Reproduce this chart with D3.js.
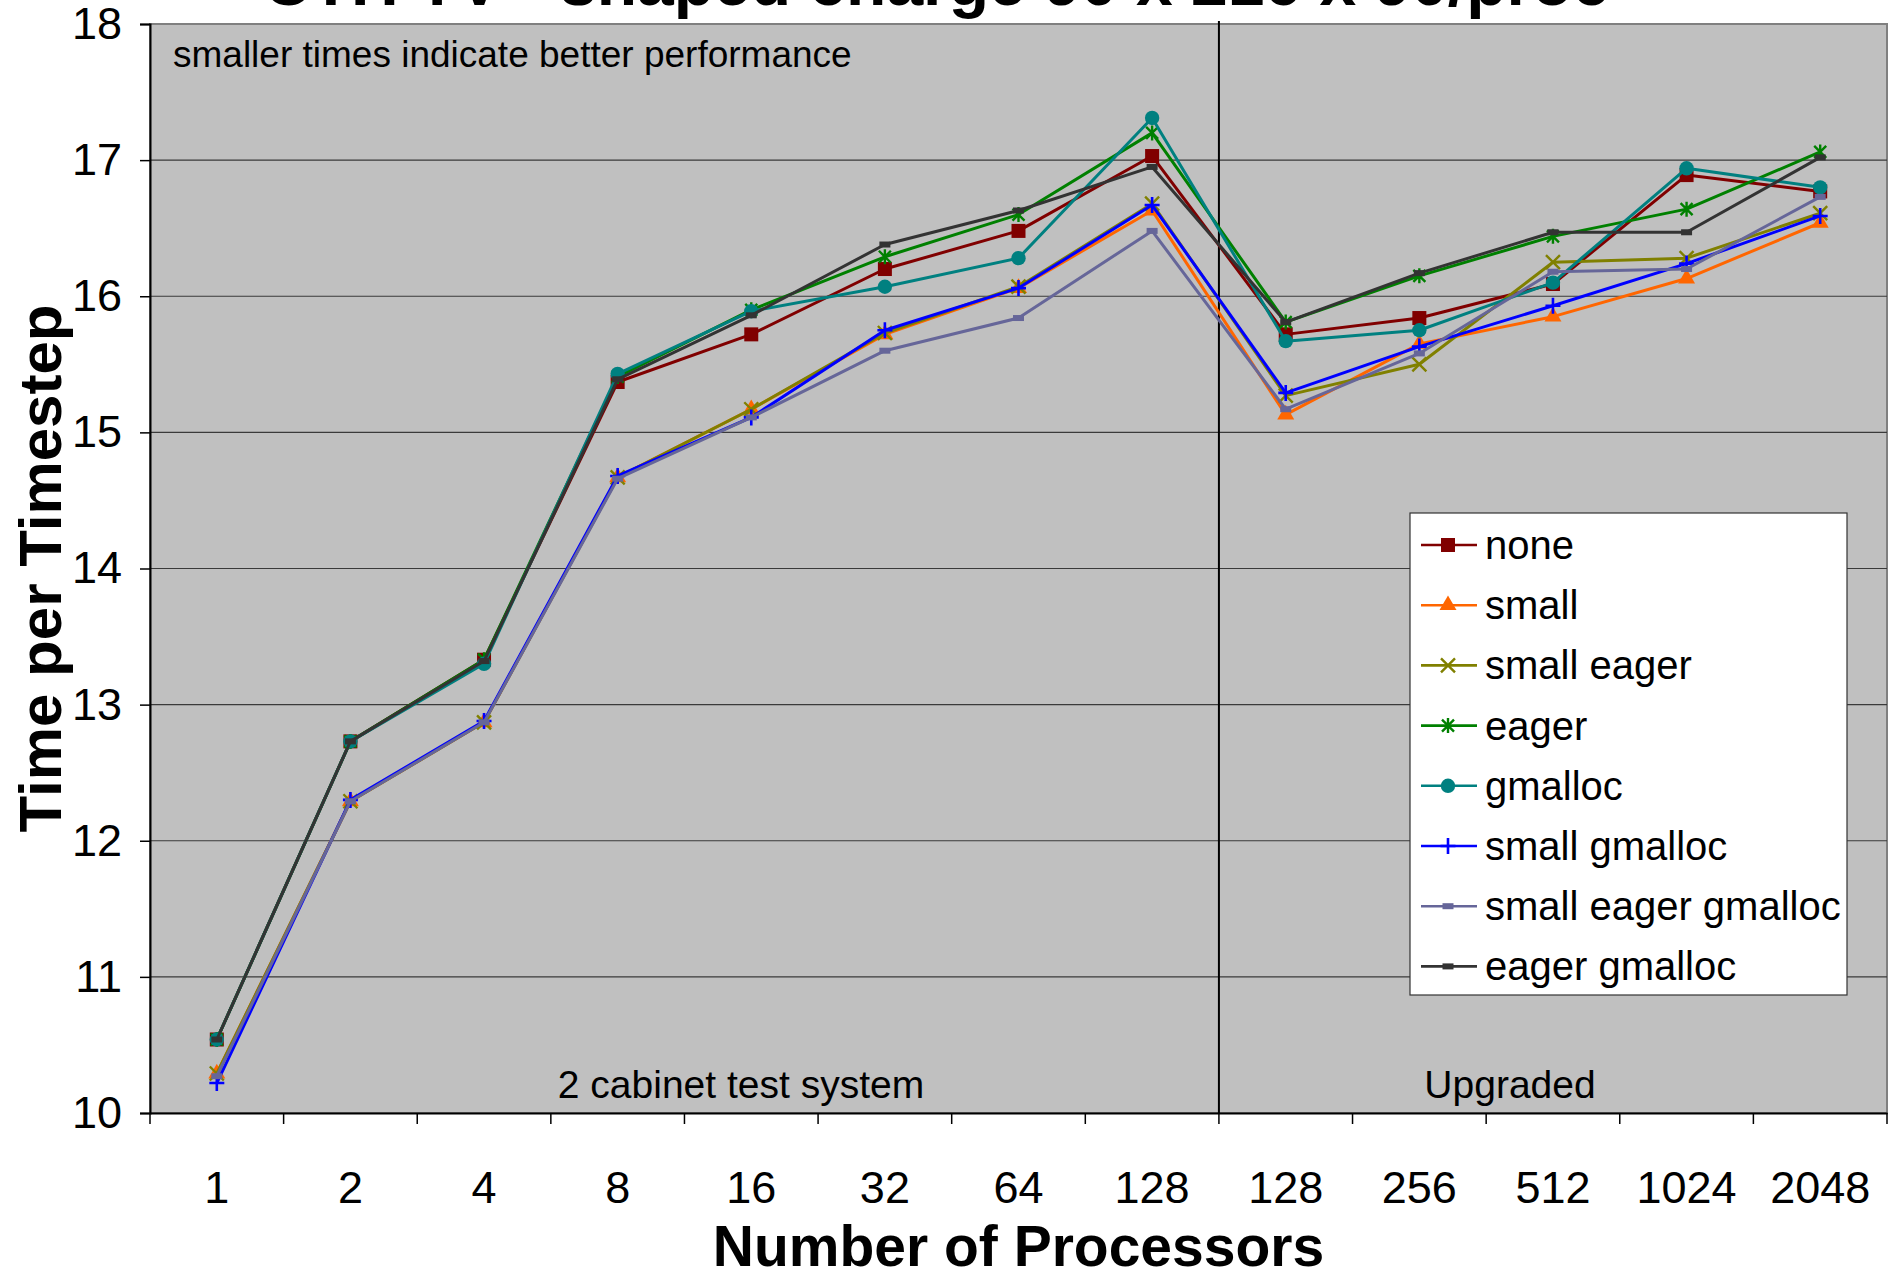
<!DOCTYPE html>
<html>
<head>
<meta charset="utf-8">
<script src="https://cdn.jsdelivr.net/npm/d3@7"></script>
<style>
  body { margin: 0; background: #fff; }
  svg { display: block; font-family: "Liberation Sans", Arial, sans-serif; }
</style>
</head>
<body>
<svg id="chart" width="1896" height="1278"></svg>
<script>
// Chart data
const categories = ['1', '2', '4', '8', '16', '32', '64', '128', '128', '256', '512', '1024', '2048'];
const yTicks = [10, 11, 12, 13, 14, 15, 16, 17, 18];

const none            = [10.54, 12.73, 13.33, 15.37, 15.72, 16.20, 16.48, 17.03, 15.72, 15.84, 16.09, 16.89, 16.77];
const small           = [10.29, 12.29, 12.87, 14.67, 15.17, 15.72, 16.06, 16.63, 15.13, 15.65, 15.85, 16.13, 16.54];
const smallEager      = [10.29, 12.29, 12.87, 14.67, 15.17, 15.73, 16.07, 16.68, 15.27, 15.50, 16.25, 16.28, 16.61];
const eager           = [10.54, 12.73, 13.33, 15.41, 15.90, 16.29, 16.60, 17.20, 15.81, 16.15, 16.44, 16.64, 17.06];
const gmalloc         = [10.54, 12.73, 13.30, 15.43, 15.89, 16.07, 16.28, 17.31, 15.67, 15.75, 16.10, 16.94, 16.80];
const smallGmalloc    = [10.22, 12.30, 12.88, 14.68, 15.11, 15.75, 16.06, 16.67, 15.29, 15.63, 15.93, 16.24, 16.59];
const smallEagerGmall = [10.27, 12.29, 12.87, 14.66, 15.11, 15.60, 15.84, 16.48, 15.17, 15.58, 16.18, 16.20, 16.73];
const eagerGmalloc    = [10.54, 12.73, 13.32, 15.39, 15.86, 16.38, 16.63, 16.95, 15.81, 16.17, 16.47, 16.47, 17.02];

const seriesNames  = ['none', 'small', 'small eager', 'eager', 'gmalloc', 'small gmalloc', 'small eager gmalloc', 'eager gmalloc'];
const seriesValues = [none, small, smallEager, eager, gmalloc, smallGmalloc, smallEagerGmall, eagerGmalloc];
const seriesColors = ['#800000', '#FF6600', '#808000', '#008000', '#008080', '#0000FF', '#666699', '#333333'];
const seriesMarker = ['square', 'triangle', 'x', 'asterisk', 'circle', 'plus', 'dash', 'dash'];

const titleText = 'CTH TV - shaped charge 90 x 216 x 90/proc';
const yTitle = 'Time per Timestep';
const xTitle = 'Number of Processors';

// Layout
const margin = {top: 24, right: 9, bottom: 165, left: 150};
const W = 1896, H = 1278;
const width = W - margin.left - margin.right;
const height = H - margin.top - margin.bottom;

const svg = d3.select('#chart');

// Scales
const x = d3.scaleBand()
    .domain(d3.range(categories.length))
    .range([0, width])
    .padding(0);
const y = d3.scaleLinear()
    .domain([10, 18])
    .range([height, 0]);

// Title (cut off at the top, as in the original)
svg.append('text')
    .attr('x', 263)
    .attr('y', 5)
    .style('font-size', '66px')
    .style('font-weight', 'bold')
    .text(titleText);

const g = svg.append('g')
    .attr('transform', `translate(${margin.left},${margin.top})`);

// Plot background
g.append('rect')
    .attr('width', width)
    .attr('height', height)
    .attr('fill', '#C0C0C0')
    .attr('stroke', '#808080')
    .attr('stroke-width', 2);

// Gridlines
g.append('g')
    .selectAll('line')
    .data(yTicks.filter(d => d > 10 && d < 18))
    .enter().append('line')
    .attr('x1', 0)
    .attr('x2', width)
    .attr('y1', d => y(d))
    .attr('y2', d => y(d))
    .attr('stroke', '#3a3a3a')
    .attr('stroke-width', 1.2);

// Divider between test system and upgraded system
const divX = x(8);
g.append('line')
    .attr('x1', divX).attr('x2', divX)
    .attr('y1', -3).attr('y2', height)
    .attr('stroke', '#000')
    .attr('stroke-width', 2);

// Annotations
g.append('text')
    .attr('x', 23)
    .attr('y', 43)
    .style('font-size', '37px')
    .text('smaller times indicate better performance');
g.append('text')
    .attr('x', 591)
    .attr('y', height - 15)
    .attr('text-anchor', 'middle')
    .style('font-size', '39px')
    .text('2 cabinet test system');
g.append('text')
    .attr('x', 1360)
    .attr('y', height - 15)
    .attr('text-anchor', 'middle')
    .style('font-size', '39px')
    .text('Upgraded');

// Y axis
const yAxis = g.append('g')
    .call(d3.axisLeft(y).tickValues(yTicks).tickSize(10).tickPadding(18).tickFormat(d3.format('d')));
yAxis.select('.domain').attr('stroke', '#000').attr('stroke-width', 2);
yAxis.selectAll('.tick line').attr('stroke', '#000').attr('stroke-width', 1.5);
yAxis.selectAll('.tick text')
    .style('font-size', '45px')
    .style('font-family', '"Liberation Sans", Arial, sans-serif')
    .attr('fill', '#000');

// X axis: labels at category centres, tick marks at category boundaries
const xAxis = g.append('g')
    .attr('transform', `translate(0,${height})`)
    .call(d3.axisBottom(x).tickSize(0).tickPadding(58).tickFormat(i => categories[i]));
xAxis.select('.domain').attr('stroke', '#000').attr('stroke-width', 2);
xAxis.selectAll('.tick text')
    .style('font-size', '45px')
    .style('font-family', '"Liberation Sans", Arial, sans-serif')
    .attr('fill', '#000');
xAxis.selectAll('.boundary')
    .data(d3.range(categories.length + 1))
    .enter().append('line')
    .attr('class', 'boundary')
    .attr('x1', i => i < categories.length ? x(i) : width)
    .attr('x2', i => i < categories.length ? x(i) : width)
    .attr('y1', 0)
    .attr('y2', 11)
    .attr('stroke', '#000')
    .attr('stroke-width', 1.5);

// Axis titles
svg.append('text')
    .attr('x', margin.left + width / 2)
    .attr('y', 1266)
    .attr('text-anchor', 'middle')
    .style('font-size', '57px')
    .style('font-weight', 'bold')
    .text(xTitle);
svg.append('text')
    .attr('transform', `translate(61,${margin.top + height / 2}) rotate(-90)`)
    .attr('text-anchor', 'middle')
    .style('font-size', '60px')
    .style('font-weight', 'bold')
    .text(yTitle);

// Marker drawing
function drawMarker(sel, type, color) {
    if (type === 'square') {
        sel.append('rect').attr('x', -7).attr('y', -7).attr('width', 14).attr('height', 14).attr('fill', color);
    } else if (type === 'triangle') {
        sel.append('path').attr('d', d3.symbol().type(d3.symbolTriangle).size(125)()).attr('fill', color);
    } else if (type === 'circle') {
        sel.append('circle').attr('r', 7.2).attr('fill', color);
    } else if (type === 'x') {
        sel.append('path').attr('d', 'M-7,-7L7,7M-7,7L7,-7').attr('stroke', color).attr('stroke-width', 2.4).attr('fill', 'none');
    } else if (type === 'asterisk') {
        sel.append('path').attr('d', 'M-6,-6L6,6M-6,6L6,-6M0,-7.5L0,7.5').attr('stroke', color).attr('stroke-width', 2.4).attr('fill', 'none');
    } else if (type === 'plus') {
        sel.append('path').attr('d', 'M-7.5,0L7.5,0M0,-8L0,8').attr('stroke', color).attr('stroke-width', 2.6).attr('fill', 'none');
    } else if (type === 'dash') {
        sel.append('rect').attr('x', -5.5).attr('y', -3).attr('width', 11).attr('height', 6).attr('fill', color);
    }
}

// Lines + markers
const line = d3.line()
    .x((d, i) => x(i) + x.bandwidth() / 2)
    .y(d => y(d));

seriesValues.forEach((vals, s) => {
    const sg = g.append('g');
    sg.append('path')
        .datum(vals)
        .attr('d', line)
        .attr('fill', 'none')
        .attr('stroke', seriesColors[s])
        .attr('stroke-width', 3)
        .attr('stroke-linejoin', 'round');
    sg.selectAll('.pt')
        .data(vals)
        .enter().append('g')
        .attr('class', 'pt')
        .attr('transform', (d, i) => `translate(${x(i) + x.bandwidth() / 2},${y(d)})`)
        .each(function () { drawMarker(d3.select(this), seriesMarker[s], seriesColors[s]); });
});

// Legend
const legend = svg.append('g').attr('transform', 'translate(1410,513)');
legend.append('rect')
    .attr('width', 437)
    .attr('height', 482)
    .attr('fill', '#fff')
    .attr('stroke', '#333')
    .attr('stroke-width', 1.2);
seriesNames.forEach((name, i) => {
    const row = legend.append('g').attr('transform', `translate(0,${32 + i * 60.2})`);
    row.append('line')
        .attr('x1', 11).attr('x2', 67)
        .attr('stroke', seriesColors[i])
        .attr('stroke-width', 2.6);
    drawMarker(row.append('g').attr('transform', 'translate(38,0)'), seriesMarker[i], seriesColors[i]);
    row.append('text')
        .attr('x', 75)
        .attr('y', 14)
        .style('font-size', '40px')
        .text(name);
});
</script>
</body>
</html>
